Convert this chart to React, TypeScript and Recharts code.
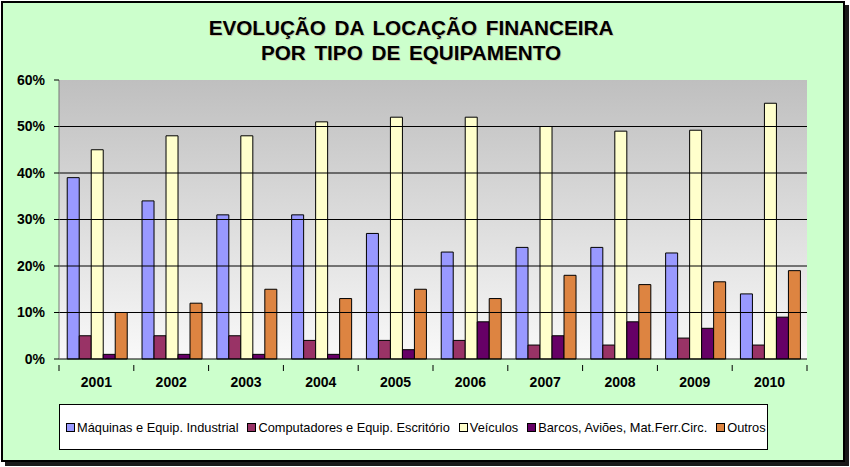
import React from "react";
import {
  BarChart,
  Bar,
  XAxis,
  YAxis,
  CartesianGrid,
  ReferenceLine,
} from "recharts";

const years = ["2001", "2002", "2003", "2004", "2005", "2006", "2007", "2008", "2009", "2010"];
const maquinas = [39, 34, 31, 31, 27, 23, 24, 24, 22.8, 14];
const computadores = [5, 5, 5, 4, 4, 4, 3, 3, 4.5, 3];
const veiculos = [45, 48, 48, 51, 52, 52, 50, 49, 49.2, 55];
const barcos = [1, 1, 1, 1, 2, 8, 5, 8, 6.6, 9];
const outros = [10, 12, 15, 13, 15, 13, 18, 16, 16.6, 19];
const yTicks = [0, 10, 20, 30, 40, 50, 60];
const gridValues = [10, 20, 30, 40, 50];

const series = [
  { key: "maquinas", name: "Máquinas e Equip. Industrial", color: "#9999ff", values: maquinas },
  { key: "computadores", name: "Computadores e Equip. Escritório", color: "#993366", values: computadores },
  { key: "veiculos", name: "Veículos", color: "#ffffcc", values: veiculos },
  { key: "barcos", name: "Barcos, Aviões, Mat.Ferr.Circ.", color: "#660066", values: barcos },
  { key: "outros", name: "Outros", color: "#dd8441", values: outros },
];

const data = years.map((year, i) => {
  const row: any = { year };
  series.forEach((s) => (row[s.key] = s.values[i]));
  return row;
});

const FONT = "Arial, 'Liberation Sans', sans-serif";
const W = 850;
const H = 467;
const plotLeft = 59;
const plotRight = 807;
const bandWidth = (plotRight - plotLeft) / years.length;

function YearTick(props: any) {
  const { x, y, payload, index } = props;
  const left = x - bandWidth / 2;
  return (
    <g>
      <line x1={left} y1={y - 2} x2={left} y2={y + 4} stroke="#000" />
      {index === years.length - 1 && (
        <line x1={left + bandWidth} y1={y - 2} x2={left + bandWidth} y2={y + 4} stroke="#000" />
      )}
      <text
        x={x}
        y={y + 20}
        textAnchor="middle"
        fontFamily={FONT}
        fontWeight="bold"
        fontSize={14}
        fill="#000"
      >
        {payload.value}
      </text>
    </g>
  );
}

export default function App() {
  return (
    <div style={{ position: "absolute", left: 0, top: 0, width: W, height: H, background: "#fff" }}>
      <div
        style={{
          position: "absolute",
          left: 1,
          top: 1,
          width: 844,
          height: 461,
          boxSizing: "border-box",
          border: "2px solid #000",
          background: "#ccffcc",
          boxShadow: "4px 4px 0 #1a1a1a",
        }}
      />
      <div
        style={{
          position: "absolute",
          left: 0,
          top: 15,
          width: 822,
          textAlign: "center",
          fontFamily: FONT,
          fontWeight: "bold",
          fontSize: 20.7,
          lineHeight: "25px",
          wordSpacing: 3,
          color: "#000",
          textShadow: "1px 1px 0 #c8c8a8",
        }}
      >
        EVOLUÇÃO DA LOCAÇÃO FINANCEIRA
        <br />
        POR TIPO DE EQUIPAMENTO
      </div>
      <div style={{ position: "absolute", left: 0, top: 0 }}>
        <BarChart
          width={W}
          height={H}
          data={data}
          margin={{ top: 80, right: W - plotRight, bottom: 78, left: 0 }}
          barGap={0}
          barCategoryGap="11%"
        >
          <defs>
            <linearGradient id="plotBg" x1="0" y1="0" x2="0" y2="1">
              <stop offset="0%" stopColor="#bfbfbf" />
              <stop offset="100%" stopColor="#f9f9f9" />
            </linearGradient>
          </defs>
          <CartesianGrid fill="url(#plotBg)" horizontal={false} vertical={false} />
          {gridValues.map((v) => (
            <ReferenceLine key={v} y={v} stroke="#000" strokeWidth={1} ifOverflow="extendDomain" />
          ))}
          <XAxis
            dataKey="year"
            height={30}
            axisLine={{ stroke: "#000" }}
            tickLine={false}
            tick={<YearTick />}
            interval={0}
          />
          <YAxis
            width={plotLeft}
            domain={[0, 60]}
            ticks={yTicks}
            tickFormatter={(v: number) => `${v}%`}
            axisLine={{ stroke: "#777" }}
            tickLine={{ stroke: "#000" }}
            tickSize={5}
            tickMargin={9}
            tick={{ fill: "#000", fontFamily: FONT, fontWeight: "bold", fontSize: 14 }}
          />
          {series.map((s) => (
            <Bar
              key={s.key}
              dataKey={s.key}
              name={s.name}
              fill={s.color}
              stroke="#000"
              strokeWidth={1}
              isAnimationActive={false}
            />
          ))}
        </BarChart>
      </div>
      <div
        style={{
          position: "absolute",
          left: 59,
          top: 404,
          width: 709,
          height: 46,
          boxSizing: "border-box",
          border: "1px solid #000",
          background: "#fff",
          display: "flex",
          alignItems: "center",
          paddingLeft: 6,
          fontFamily: FONT,
          fontSize: 12.8,
          color: "#000",
          whiteSpace: "nowrap",
        }}
      >
        {series.map((s) => (
          <div key={s.key} style={{ display: "flex", alignItems: "center", marginRight: 9 }}>
            <span
              style={{
                display: "inline-block",
                width: 7,
                height: 7,
                border: "1px solid #000",
                background: s.color,
                marginRight: 2,
              }}
            />
            <span>{s.name}</span>
          </div>
        ))}
      </div>
    </div>
  );
}
